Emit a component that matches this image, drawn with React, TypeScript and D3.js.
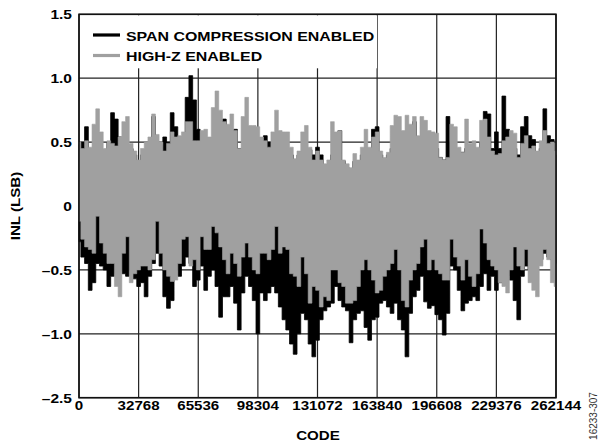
import React from "react";
import * as d3 from "d3";

const X_TICKS = [0, 32768, 65536, 98304, 131072, 163840, 196608, 229376, 262144];
const Y_TICKS = [1.5, 1.0, 0.5, 0, -0.5, -1.0, -1.5];
const Y_TICK_LABELS = ["1.5", "1.0", "0.5", "0", "\u20130.5", "\u20131.0", "\u20132.5"];
const CODE_STEP = 2048;

// Span compression enabled (black): upper / lower envelope per 2048 codes
const SPAN_UPPER = [
  0.48, 0.50, 0.62, 0.40, 0.42, 0.45, 0.40, 0.44, 0.50, 0.73, 0.68, 0.54, 0.45, 0.40, 0.45, 0.40,
  0.35, 0.40, 0.42, 0.45, 0.70, 0.50, 0.48, 0.54, 0.50, 0.73, 0.62, 0.49, 0.51, 0.85, 1.02, 0.83,
  0.60, 0.45, 0.40, 0.45, 0.40, 0.45, 0.50, 0.68, 0.62, 0.50, 0.60, 0.45, 0.40, 0.45, 0.42, 0.50,
  0.45, 0.45, 0.55, 0.50, 0.40, 0.45, 0.40, 0.45, 0.40, 0.40, 0.35, 0.40, 0.42, 0.45, 0.44, 0.40,
  0.46, 0.40, 0.30, 0.30, 0.40, 0.45, 0.59, 0.35, 0.30, 0.28, 0.35, 0.30, 0.40, 0.45, 0.40, 0.60,
  0.62, 0.40, 0.35, 0.40, 0.45, 0.50, 0.45, 0.52, 0.45, 0.50, 0.66, 0.50, 0.45, 0.50, 0.45, 0.40,
  0.45, 0.38, 0.36, 0.70, 0.50, 0.45, 0.40, 0.42, 0.45, 0.40, 0.45, 0.42, 0.50, 0.74, 0.72, 0.45,
  0.58, 0.45, 0.86, 0.60, 0.50, 0.45, 0.40, 0.62, 0.70, 0.55, 0.52, 0.42, 0.45, 0.76, 0.55, 0.52,
  0.40,
];
const SPAN_LOWER = [
  -0.28, -0.40, -0.45, -0.66, -0.60, -0.45, -0.47, -0.50, -0.63, -0.55, -0.53, -0.50, -0.53, -0.55, -0.50, -0.57,
  -0.63, -0.60, -0.71, -0.55, -0.45, -0.37, -0.47, -0.71, -0.80, -0.74, -0.50, -0.55, -0.47, -0.40, -0.45, -0.63,
  -0.58, -0.47, -0.66, -0.55, -0.50, -0.63, -0.87, -0.71, -0.71, -0.63, -0.76, -0.97, -0.68, -0.55, -0.63, -0.74,
  -1.00, -0.68, -0.74, -0.68, -0.63, -0.68, -0.79, -0.89, -0.97, -1.08, -1.16, -1.00, -0.84, -0.89, -1.08, -1.18,
  -1.05, -0.89, -0.82, -0.79, -0.76, -0.63, -0.74, -0.79, -0.82, -1.07, -0.89, -0.84, -0.82, -0.95, -1.05, -0.89,
  -0.87, -0.76, -0.74, -0.79, -0.84, -0.76, -0.89, -0.97, -1.18, -0.84, -0.71, -0.66, -0.55, -0.75, -0.80, -0.78,
  -0.85, -0.89, -1.01, -0.84, -0.47, -0.50, -0.66, -0.82, -0.76, -0.74, -0.71, -0.74, -0.63, -0.53, -0.66, -0.55,
  -0.66, -0.60, -0.53, -0.55, -0.58, -0.74, -0.89, -0.55, -0.47, -0.50, -0.47, -0.45, -0.42, -0.37, -0.40, -0.42,
  -0.45,
];

// High-Z enabled (gray): upper / lower envelope per 2048 codes
const HIGHZ_UPPER = [
  0.50, 0.45, 0.51, 0.46, 0.64, 0.76, 0.58, 0.45, 0.51, 0.49, 0.47, 0.54, 0.66, 0.70, 0.49, 0.43,
  0.36, 0.45, 0.50, 0.54, 0.72, 0.56, 0.50, 0.43, 0.49, 0.58, 0.54, 0.55, 0.58, 0.66, 0.66, 0.51,
  0.51, 0.59, 0.60, 0.54, 0.77, 0.90, 0.75, 0.66, 0.64, 0.72, 0.59, 0.45, 0.70, 0.85, 0.63, 0.63,
  0.62, 0.54, 0.51, 0.46, 0.58, 0.75, 0.59, 0.58, 0.58, 0.46, 0.37, 0.43, 0.58, 0.63, 0.46, 0.36,
  0.43, 0.36, 0.33, 0.36, 0.66, 0.58, 0.59, 0.36, 0.33, 0.30, 0.41, 0.36, 0.46, 0.60, 0.46, 0.54,
  0.58, 0.43, 0.38, 0.42, 0.63, 0.71, 0.70, 0.59, 0.71, 0.64, 0.70, 0.55, 0.70, 0.67, 0.59, 0.58,
  0.57, 0.38, 0.36, 0.38, 0.64, 0.62, 0.46, 0.42, 0.68, 0.49, 0.51, 0.46, 0.67, 0.68, 0.54, 0.43,
  0.40, 0.41, 0.51, 0.54, 0.59, 0.57, 0.38, 0.49, 0.55, 0.45, 0.47, 0.43, 0.51, 0.59, 0.49, 0.50,
  0.43,
];
const HIGHZ_LOWER = [
  -0.12, -0.26, -0.32, -0.34, -0.37, -0.08, -0.29, -0.37, -0.45, -0.45, -0.63, -0.71, -0.37, -0.24, -0.60, -0.53,
  -0.50, -0.47, -0.47, -0.50, -0.42, -0.12, -0.37, -0.50, -0.55, -0.59, -0.58, -0.45, -0.26, -0.24, -0.47, -0.42,
  -0.50, -0.24, -0.34, -0.34, -0.16, -0.21, -0.32, -0.42, -0.53, -0.37, -0.45, -0.55, -0.40, -0.29, -0.40, -0.50,
  -0.53, -0.37, -0.37, -0.42, -0.34, -0.16, -0.37, -0.32, -0.34, -0.53, -0.55, -0.63, -0.40, -0.53, -0.76, -0.63,
  -0.66, -0.79, -0.71, -0.74, -0.50, -0.50, -0.60, -0.63, -0.76, -0.76, -0.74, -0.63, -0.50, -0.42, -0.50, -0.58,
  -0.68, -0.66, -0.55, -0.50, -0.45, -0.34, -0.50, -0.74, -0.79, -0.58, -0.50, -0.45, -0.32, -0.26, -0.50, -0.42,
  -0.50, -0.53, -0.58, -0.58, -0.26, -0.40, -0.47, -0.58, -0.42, -0.55, -0.63, -0.53, -0.18, -0.29, -0.42, -0.47,
  -0.50, -0.60, -0.63, -0.68, -0.50, -0.32, -0.47, -0.50, -0.34, -0.60, -0.66, -0.71, -0.47, -0.34, -0.42, -0.60,
  -0.63,
];

const W = 600;
const H = 442;
const L = 79;
const R = 556;
const T = 14.3;
const B = 397.7;
const FONT = "'Liberation Sans', Arial, Helvetica, sans-serif";
const GRAY = "#a0a0a0";

type Row = { code: number; lo: number; hi: number };

function rows(lo: number[], hi: number[]): Row[] {
  return lo.map((v, i) => ({ code: i * CODE_STEP, lo: v, hi: hi[i] }));
}

function Txt(props: {
  x: number;
  y: number;
  anchor?: string;
  size?: number;
  sx?: number;
  children: React.ReactNode;
}) {
  const { x, y, anchor = "start", size = 13.5, sx = 1.12, children } = props;
  return (
    <text
      transform={`translate(${x},${y}) scale(${sx},1)`}
      textAnchor={anchor}
      fontFamily={FONT}
      fontWeight="bold"
      fontSize={size}
      fill="#000"
    >
      {children}
    </text>
  );
}

export default function App() {
  const x = d3.scaleLinear().domain([0, 262144]).range([L, R]);
  const y = d3.scaleLinear().domain([-1.5, 1.5]).range([B, T]);
  const area = d3
    .area<Row>()
    .curve(d3.curveStep)
    .x((d) => x(d.code))
    .y0((d) => y(d.lo))
    .y1((d) => y(d.hi));
  const spanPath = area(rows(SPAN_LOWER, SPAN_UPPER)) || "";
  const hzPath = area(rows(HIGHZ_LOWER, HIGHZ_UPPER)) || "";

  return (
    <svg
      width={W}
      height={H}
      viewBox={`0 0 ${W} ${H}`}
      style={{ position: "absolute", left: 0, top: 0, background: "#fff" }}
    >
      <rect x={0} y={0} width={W} height={H} fill="#fff" />
      {/* grid */}
      {Y_TICKS.map((t) => (
        <line key={"gy" + t} x1={L} x2={R} y1={y(t)} y2={y(t)} stroke="#222" strokeWidth={1.2} />
      ))}
      {X_TICKS.map((t) => (
        <line key={"gx" + t} x1={x(t)} x2={x(t)} y1={T} y2={B} stroke="#222" strokeWidth={1.2} />
      ))}
      {/* legend background */}
      <rect x={L + 1} y={T + 1} width={297} height={53} fill="#fff" />
      {/* data */}
      <path d={spanPath} fill="#000" stroke="#000" strokeWidth={0.8} strokeLinejoin="miter" />
      <path d={hzPath} fill={GRAY} stroke={GRAY} strokeWidth={0.6} />
      {/* frame */}
      <rect x={L} y={T} width={R - L} height={B - T} fill="none" stroke="#111" strokeWidth={1.6} />
      {/* legend */}
      <line x1={93} x2={120} y1={35} y2={35} stroke="#000" strokeWidth={3.2} />
      <Txt x={126} y={40.5} sx={1.18}>SPAN COMPRESSION ENABLED</Txt>
      <line x1={93} x2={120} y1={55.5} y2={55.5} stroke={GRAY} strokeWidth={3.2} />
      <Txt x={126} y={60.5} sx={1.18}>HIGH-Z ENABLED</Txt>
      {/* y tick labels */}
      {Y_TICKS.map((t, i) => (
        <Txt key={"yl" + t} x={72} y={y(t) + 5} anchor="end" sx={1.15}>
          {Y_TICK_LABELS[i]}
        </Txt>
      ))}
      {/* x tick labels */}
      {X_TICKS.map((t) => (
        <Txt key={"xl" + t} x={x(t)} y={410} anchor="middle">
          {String(t)}
        </Txt>
      ))}
      {/* axis titles */}
      <Txt x={318} y={440} anchor="middle">CODE</Txt>
      <text
        transform={`translate(20,${y(0)}) rotate(-90) scale(1.12,1)`}
        textAnchor="middle"
        fontFamily={FONT}
        fontWeight="bold"
        fontSize={13.5}
      >
        INL (LSB)
      </text>
      <text
        transform={`translate(597,416) rotate(-90)`}
        textAnchor="middle"
        fontFamily={FONT}
        fontSize={10}
        fill="#333"
      >
        16233-307
      </text>
    </svg>
  );
}
